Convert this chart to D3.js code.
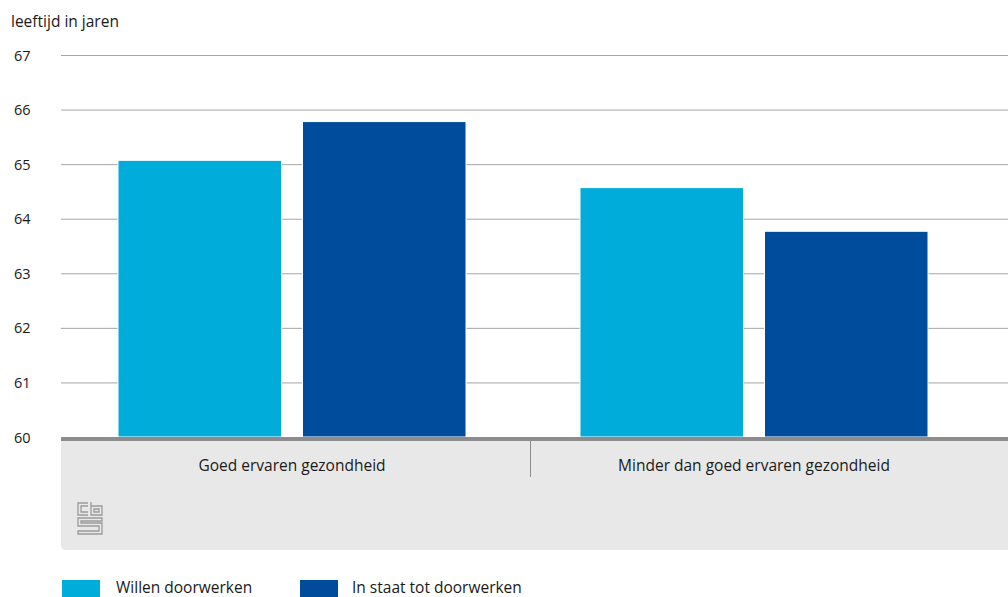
<!DOCTYPE html>
<html><head><meta charset="utf-8">
<script src="https://cdn.jsdelivr.net/npm/d3@7"></script>
<style>body{margin:0;background:#fff;}svg{display:block;font-family:"Open Sans",sans-serif;}</style>
</head><body>
<svg id="c" width="1008" height="597"></svg>
<script>
const categories = ["Goed ervaren gezondheid", "Minder dan goed ervaren gezondheid"];
const series = ["Willen doorwerken", "In staat tot doorwerken"];
const willen = [65.07, 64.57];
const inStaat = [65.78, 63.77];
const yTicks = [60, 61, 62, 63, 64, 65, 66, 67];
const yTitle = "leeftijd in jaren";
const colors = ["#00acd9", "#004c9c"];

(function () {
const values = [willen, inStaat];
const svg = d3.select("#c");
const mLeft = 61, mRight = 1008, mTop = 55, mBase = 437;
const FONT = "'Open Sans', sans-serif";

const y = d3.scaleLinear().domain([60, 67]).range([mBase, mTop]);
const x0 = d3.scaleBand().domain(categories).range([61, 985]).paddingInner(114/462).paddingOuter(57/462);
const x1 = d3.scaleBand().domain(series).range([0, x0.bandwidth()]).paddingInner(21/184.5);

// gridlines
const yAxis = d3.axisLeft(y).tickValues(yTicks).tickSize(-(mRight - mLeft)).tickFormat(d3.format("d"));
const ga = svg.append("g").attr("transform", `translate(${mLeft},0)`).call(yAxis)
  .attr("font-family", FONT);
ga.select(".domain").remove();
ga.selectAll(".tick line").attr("stroke", "#a6a6a6").attr("stroke-width", 1);
ga.selectAll(".tick text").attr("x", -47).attr("text-anchor", "start").attr("font-size", 14.5).attr("fill", "#1a1a1a").attr("dy", "0.35em");

svg.append("text").attr("x", 11).attr("y", 27).attr("font-size", 15.5).attr("fill", "#1a1a1a").text(yTitle);

// bars
const groups = svg.append("g").selectAll("g").data(categories).join("g")
  .attr("transform", d => `translate(${x0(d)},0)`);
groups.selectAll("rect").data((d, i) => series.map((s, j) => ({s, v: values[j][i], j})))
  .join("rect")
  .attr("x", d => x1(d.s)).attr("width", x1.bandwidth())
  .attr("y", d => y(d.v)).attr("height", d => y(60) - y(d.v))
  .attr("fill", d => colors[d.j]).attr("stroke", "#fff").attr("stroke-width", 1);

// bottom panel
const panelTop = 441, panelBottom = 550, r = 5;
svg.append("path").attr("fill", "#e8e8e8")
  .attr("d", `M${mLeft},${panelTop} H${mRight} V${panelBottom} H${mLeft + r} Q${mLeft},${panelBottom} ${mLeft},${panelBottom - r} Z`);
svg.append("rect").attr("x", mLeft).attr("y", mBase).attr("width", mRight - mLeft).attr("height", 4).attr("fill", "#8c8c8c");
svg.append("line").attr("x1", 530.5).attr("x2", 530.5).attr("y1", panelTop).attr("y2", 477).attr("stroke", "#8c8c8c").attr("stroke-width", 1);

svg.append("g").selectAll("text").data(categories).join("text")
  .attr("x", d => x0(d) + x0.bandwidth() / 2).attr("y", 471)
  .attr("text-anchor", "middle").attr("font-size", 15.5).attr("fill", "#1a1a1a").text(d => d);

// logo (approximation)
const logo = svg.append("g").attr("transform", "translate(77,502)").attr("fill", "none").attr("stroke", "#9a9a9a").attr("stroke-width", 1.3);
logo.append("path").attr("d", "M11,1 H1 V13 H11 M11,4 H4 V10 H11");
logo.append("path").attr("d", "M14,0 V13 H25 V4 H14 M17,7 H22 V10 H17 Z");
logo.append("path").attr("d", "M25,16 H1 V24 H22 V29 H1 V32 H25 V21 H4 V19 H25 Z");

// legend
const leg = svg.append("g").selectAll("g").data(series).join("g")
  .attr("transform", (d, i) => `translate(${[62, 300][i]},580)`);
leg.append("rect").attr("width", 38).attr("height", 17).attr("fill", (d, i) => colors[i]);
leg.append("text").attr("x", (d, i) => [54, 52][i]).attr("y", 13).attr("font-size", 15.5).attr("fill", "#1a1a1a").text(d => d);
})();
</script>
</body></html>
